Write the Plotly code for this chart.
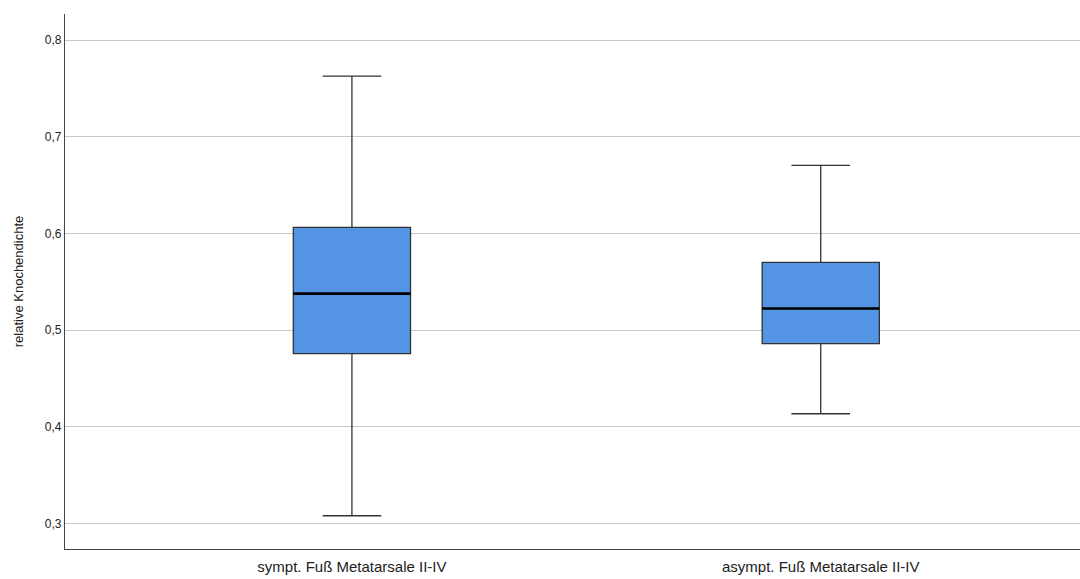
import plotly.graph_objects as go

# Boxplot statistics
categories = ["sympt. Fuß Metatarsale II-IV", "asympt. Fuß Metatarsale II-IV"]
lower_whisker = [0.308, 0.4135]
q1_values = [0.4756, 0.486]
medians = [0.5378, 0.5223]
q3_values = [0.6062, 0.570]
upper_whisker = [0.7627, 0.6705]
y_ticks = [0.3, 0.4, 0.5, 0.6, 0.7, 0.8]

box_width = 0.25

fig = go.Figure()
fig.add_trace(go.Box(
    x=categories,
    q1=q1_values,
    median=medians,
    q3=q3_values,
    lowerfence=lower_whisker,
    upperfence=upper_whisker,
    width=box_width,
    whiskerwidth=0.5,
    fillcolor="#5494E4",
    line=dict(color="#333333", width=1.3),
    boxpoints=False,
    hoverinfo="y",
    showlegend=False,
))

# thicker median line like SPSS
for i, m in enumerate(medians):
    fig.add_shape(
        type="line", xref="x", yref="y",
        x0=i - box_width / 2, x1=i + box_width / 2, y0=m, y1=m,
        line=dict(color="#000000", width=2.6),
    )

fig.update_layout(
    width=1080, height=579,
    margin=dict(l=65, r=0, t=14, b=30),
    plot_bgcolor="white",
    paper_bgcolor="white",
    separators=",.",
    font=dict(family="Liberation Sans, Arial, sans-serif", size=12, color="#222"),
    xaxis=dict(
        type="category",
        range=[-0.612, 1.553],
        showline=True, linecolor="#444", linewidth=1.3,
        showgrid=False, ticks="",
        ticklabelstandoff=4,
        tickfont=dict(size=15, color="#222"),
    ),
    yaxis=dict(
        range=[0.2736, 0.827],
        tickvals=y_ticks,
        tickformat=".1f",
        showline=True, linecolor="#444", linewidth=1.3,
        showgrid=True, gridcolor="#c8c8c8", gridwidth=1.2,
        zeroline=False, ticks="",
        tickfont=dict(size=12, color="#222"),
        title=dict(text="relative Knochendichte", font=dict(size=13, color="#222"), standoff=18),
    ),
)

# remove the default page margin so the figure sits at the window corner
fig.write_html(
    "out.html",
    config={"displayModeBar": False},
    post_script="document.body.style.margin='0';document.body.style.overflow='hidden';",
)
